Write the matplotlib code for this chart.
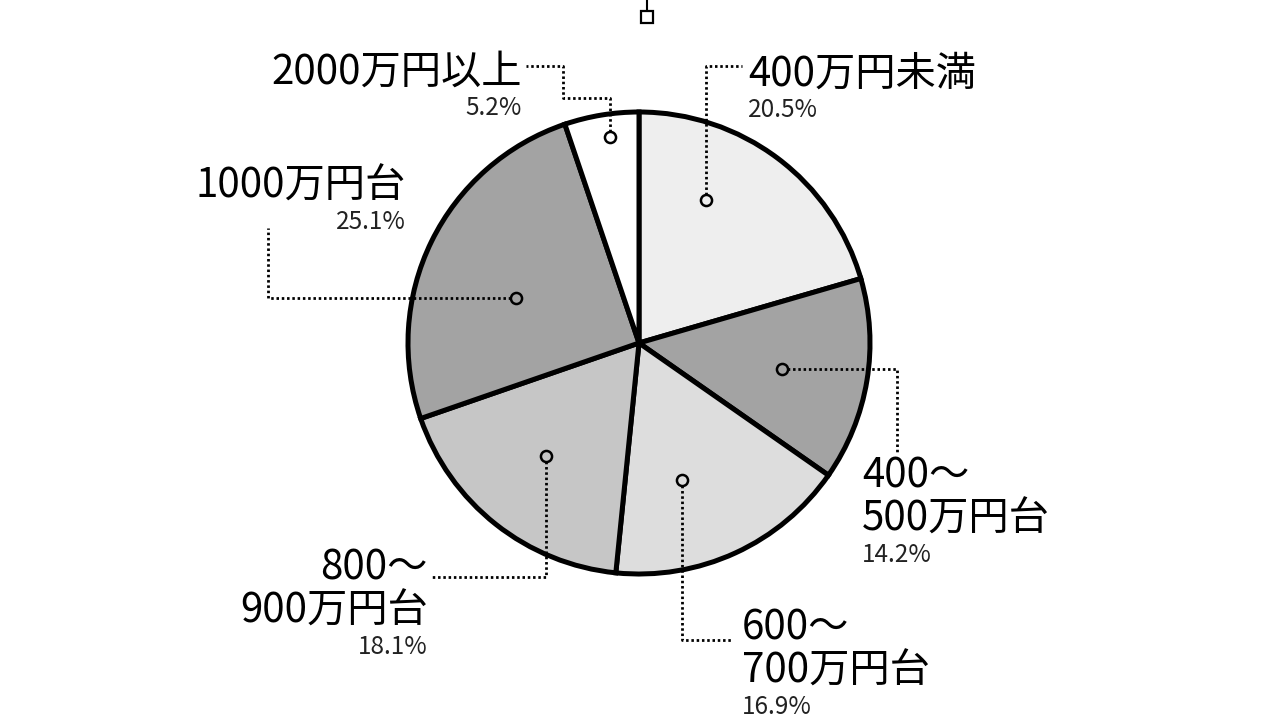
import matplotlib.pyplot as plt

plt.rcParams['font.family'] = ['Noto Sans CJK JP', 'DejaVu Sans']

# data, clockwise from the top
labels = ['400万円未満', '400～\n500万円台', '600～\n700万円台',
          '800～\n900万円台', '1000万円台', '2000万円以上']
shares = [20.5, 14.2, 16.9, 18.1, 25.1, 5.2]
pct_text = ['20.5%', '14.2%', '16.9%', '18.1%', '25.1%', '5.2%']
colors = ['#eeeeee', '#a3a3a3', '#dddddd', '#c6c6c6', '#a3a3a3', '#ffffff']

# layout (pixel coords, y down): leader path starting at the dot, then
# label anchor x, alignment, baseline of the first line
leaders = [
    [(706, 200), (706, 66), (742, 66)],
    [(782, 369), (897, 369), (897, 452)],
    [(682, 480), (682, 640), (732, 640)],
    [(546, 456), (546, 577), (432, 577)],
    [(516, 298), (268, 298), (268, 228)],
    [(610, 137), (610, 98), (563, 98), (563, 66), (526, 66)],
]
anchors = [
    (748, 'left', 86),
    (862, 'left', 488),
    (742, 'left', 640),
    (428, 'right', 580),
    (406, 'right', 198),
    (522, 'right', 84),
]
LINE_GAP = 43
PCT_GAP = 31

fig = plt.figure(figsize=(12.8, 7.2), dpi=100)
ax = fig.add_axes([0, 0, 1, 1])

# y axis runs downward, so counterclock here draws clockwise on screen
ax.pie(shares, colors=colors, startangle=-90, counterclock=True,
       center=(639, 343), radius=231,
       wedgeprops=dict(edgecolor='black', linewidth=3.6))
ax.set_xlim(0, 1280)
ax.set_ylim(720, 0)
ax.set_aspect('equal')
ax.axis('off')

for path, col in zip(leaders, colors):
    xs = [p[0] for p in path]
    ys = [p[1] for p in path]
    ax.plot(xs, ys, color='black', lw=2.0, linestyle=(0, (0.9, 1.0)),
            solid_capstyle='butt', zorder=5)
    ax.plot(xs[0], ys[0], marker='o', ms=8, mfc=col, mec='black',
            mew=1.8, zorder=6)

for lab, pct, (x, ha, base) in zip(labels, pct_text, anchors):
    lines = lab.split('\n')
    for i, line in enumerate(lines):
        ax.text(x, base + i * LINE_GAP, line, ha=ha, va='baseline',
                fontsize=29, color='black')
    ax.text(x, base + (len(lines) - 1) * LINE_GAP + PCT_GAP, pct, ha=ha,
            va='baseline', fontsize=17.5, color='#222222')

# small hanger at the top
ax.plot([647, 647], [0, 16], color='black', lw=1.5)
ax.plot(647, 17, marker='s', ms=8, mfc='white', mec='black', mew=1.6)

fig.savefig('out.png', dpi=100)
